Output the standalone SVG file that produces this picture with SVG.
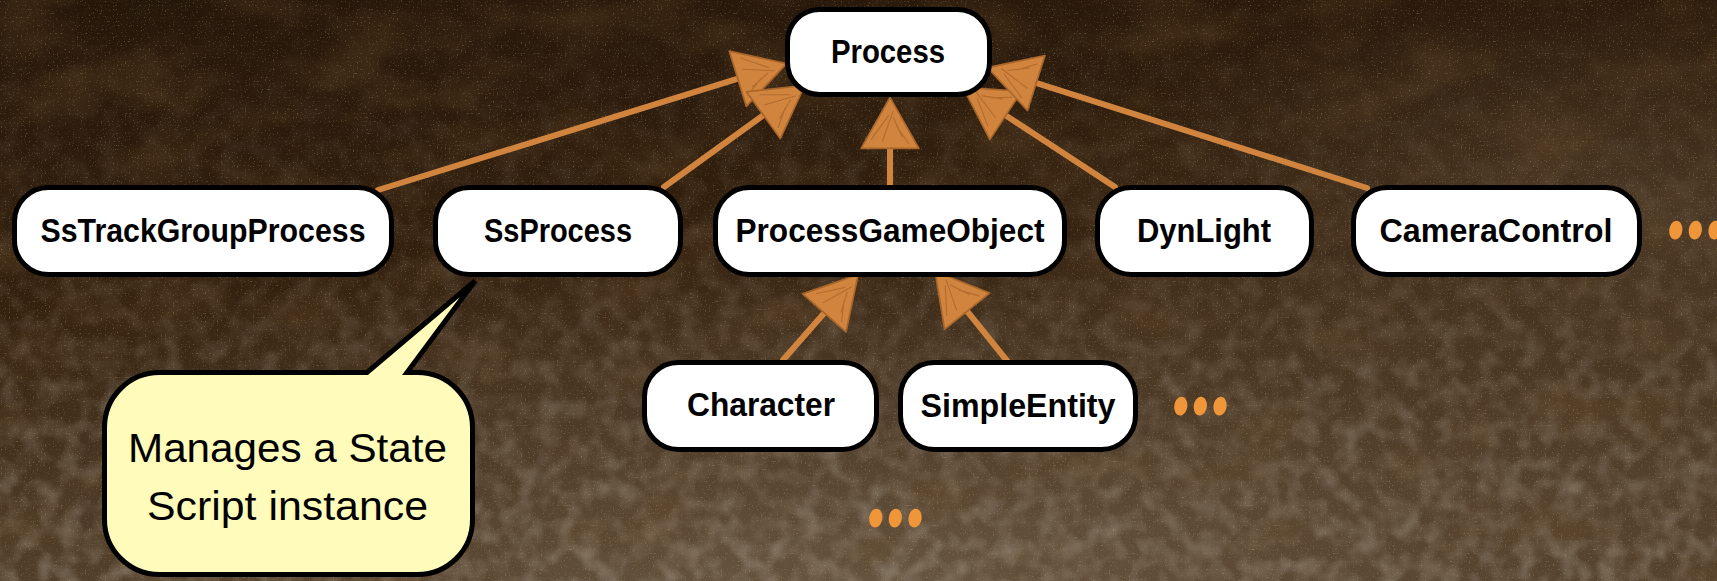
<svg xmlns="http://www.w3.org/2000/svg" width="1717" height="581" viewBox="0 0 1717 581">
<defs>
<style>
.box{fill:#ffffff;stroke:#000000;stroke-width:5}
.lbl{font-family:"Liberation Sans Narrow","Liberation Sans",Arial,sans-serif;font-weight:bold;font-size:33px;fill:#000000;text-anchor:middle}
.note{font-family:"Liberation Sans Narrow","Liberation Sans",Arial,sans-serif;font-size:40px;fill:#000000;text-anchor:middle}
.conn{stroke:#d0843e;stroke-width:6;fill:none;stroke-linecap:round;marker-end:url(#ah)}
.dots{font-family:Lato,"Open Sans",sans-serif;font-weight:bold;font-size:70px;fill:#f0963a;stroke:#f0963a;stroke-width:2.5;stroke-linejoin:round;letter-spacing:3px}
</style>
<marker id="ah" markerUnits="userSpaceOnUse" markerWidth="60" markerHeight="60" viewBox="0 0 48 54" refX="4" refY="27" orient="auto" overflow="visible">
<path d="M0,1 L46,27 L0,53 Z" fill="#d0843e" stroke="#a9662b" stroke-width="1.5" stroke-linejoin="round"/>
<path d="M8,10 L30,26 M6,20 L34,30 M10,38 L28,30 M4,44 L20,33" stroke="#9c5c24" stroke-width="1" opacity="0.6"/>
</marker>
<linearGradient id="bg" x1="0" y1="0" x2="0.25" y2="1">
<stop offset="0" stop-color="#25160a"/>
<stop offset="0.5" stop-color="#34210f"/>
<stop offset="1" stop-color="#4e3c28"/>
</linearGradient>
<radialGradient id="lite" cx="0.52" cy="1.1" r="0.7">
<stop offset="0" stop-color="#7a6a56" stop-opacity="0.7"/>
<stop offset="0.55" stop-color="#6a5844" stop-opacity="0.3"/>
<stop offset="1" stop-color="#6a5844" stop-opacity="0"/>
</radialGradient>
<radialGradient id="lite2" cx="0.95" cy="0.35" r="0.35">
<stop offset="0" stop-color="#6a5a48" stop-opacity="0.35"/>
<stop offset="1" stop-color="#6a5a48" stop-opacity="0"/>
</radialGradient>
<linearGradient id="mfade" x1="0" y1="0" x2="0" y2="1">
<stop offset="0" stop-color="#fff" stop-opacity="0.05"/>
<stop offset="0.45" stop-color="#fff" stop-opacity="0.35"/>
<stop offset="1" stop-color="#fff" stop-opacity="1"/>
</linearGradient>
<mask id="mmask"><rect width="1717" height="581" fill="url(#mfade)"/></mask>
<filter id="mot" x="0" y="0" width="1717" height="581" filterUnits="userSpaceOnUse">
<feTurbulence type="fractalNoise" baseFrequency="0.05" numOctaves="2" seed="7"/>
<feColorMatrix type="matrix" values="0 0 0 0 0.46  0 0 0 0 0.40  0 0 0 0 0.33  1.6 0 0 0 -0.62"/>
</filter>
<filter id="spk" x="0" y="0" width="1717" height="581" filterUnits="userSpaceOnUse">
<feTurbulence type="fractalNoise" baseFrequency="0.75" numOctaves="1" seed="3"/>
<feColorMatrix type="matrix" values="0 0 0 0 0.62  0 0 0 0 0.55  0 0 0 0 0.22  6 0 0 0 -3.7"/>
</filter>
<filter id="drk" x="0" y="0" width="1717" height="581" filterUnits="userSpaceOnUse">
<feTurbulence type="fractalNoise" baseFrequency="0.01 0.018" numOctaves="3" seed="11"/>
<feColorMatrix type="matrix" values="0 0 0 0 0.12  0 0 0 0 0.06  0 0 0 0 0.02  2 0 0 0 -0.9"/>
</filter>
</defs>

<g id="background">
<rect width="1717" height="581" fill="url(#bg)"/>
<rect width="1717" height="581" fill="url(#lite)"/>
<rect width="1717" height="581" fill="url(#lite2)"/>
<rect width="1717" height="581" fill="#000" filter="url(#mot)" mask="url(#mmask)" opacity="0.6"/>
<rect width="1717" height="581" fill="#000" filter="url(#drk)" opacity="0.5"/>
<rect width="1717" height="581" fill="#000" filter="url(#spk)" opacity="0.3"/>
</g>

<g id="connectors">
<line class="conn" x1="378" y1="190" x2="742" y2="77.4"/>
<line class="conn" x1="664" y1="187" x2="767" y2="112.6"/>
<line class="conn" x1="890" y1="186" x2="890" y2="144"/>
<line class="conn" x1="1115" y1="187" x2="1002" y2="113"/>
<line class="conn" x1="1367" y1="188" x2="1032" y2="81.7"/>
<line class="conn" x1="783" y1="360" x2="827.3" y2="309.6"/>
<line class="conn" x1="1008" y1="362" x2="964.3" y2="307.7"/>
</g>

<g id="node-process">
<rect class="box" x="787.5" y="9.5" width="202" height="85" rx="32"/>
<text class="lbl" x="888" y="63" textLength="114" lengthAdjust="spacingAndGlyphs">Process</text>
</g>
<g id="node-sstrackgroupprocess">
<rect class="box" x="14.5" y="187.5" width="377" height="87" rx="34"/>
<text class="lbl" x="203" y="242" textLength="325" lengthAdjust="spacingAndGlyphs">SsTrackGroupProcess</text>
</g>
<g id="node-ssprocess">
<rect class="box" x="435.5" y="187.5" width="245" height="87" rx="34"/>
<text class="lbl" x="558" y="242" textLength="148" lengthAdjust="spacingAndGlyphs">SsProcess</text>
</g>
<g id="node-processgameobject">
<rect class="box" x="715.5" y="187.5" width="349" height="87" rx="34"/>
<text class="lbl" x="890" y="242" textLength="309" lengthAdjust="spacingAndGlyphs">ProcessGameObject</text>
</g>
<g id="node-dynlight">
<rect class="box" x="1097.5" y="187.5" width="214" height="87" rx="34"/>
<text class="lbl" x="1204" y="242" textLength="134" lengthAdjust="spacingAndGlyphs">DynLight</text>
</g>
<g id="node-cameracontrol">
<rect class="box" x="1353.5" y="187.5" width="286" height="87" rx="34"/>
<text class="lbl" x="1496" y="242" textLength="233" lengthAdjust="spacingAndGlyphs">CameraControl</text>
</g>
<g id="node-character">
<rect class="box" x="644.5" y="362.5" width="232" height="87" rx="34"/>
<text class="lbl" x="761" y="416" textLength="148" lengthAdjust="spacingAndGlyphs">Character</text>
</g>
<g id="node-simpleentity">
<rect class="box" x="900.5" y="362.5" width="235" height="87" rx="34"/>
<text class="lbl" x="1018" y="417" textLength="195" lengthAdjust="spacingAndGlyphs">SimpleEntity</text>
</g>

<g id="callout">
<path d="M159.5,372.5 H367 L475,281 L407,372.5 H417.5 A55,55 0 0 1 472.5,427.5 V519.5 A55,55 0 0 1 417.5,574.5 H159.5 A55,55 0 0 1 104.5,519.5 V427.5 A55,55 0 0 1 159.5,372.5 Z" fill="#fffcbb" stroke="#000" stroke-width="5" stroke-linejoin="miter"/>
<text class="note" x="287.5" y="462" textLength="319" lengthAdjust="spacingAndGlyphs">Manages a State</text>
<text class="note" x="287.5" y="520" textLength="281" lengthAdjust="spacingAndGlyphs">Script instance</text>
</g>

<g id="ellipses">
<text class="dots" x="0" y="0" transform="translate(1667,237) scale(1,1.45) skewX(-6)">...</text>
<text class="dots" x="0" y="0" transform="translate(1172,413) scale(1,1.45) skewX(-6)">...</text>
<text class="dots" x="0" y="0" transform="translate(867,525) scale(1,1.45) skewX(-6)">...</text>
</g>
</svg>
